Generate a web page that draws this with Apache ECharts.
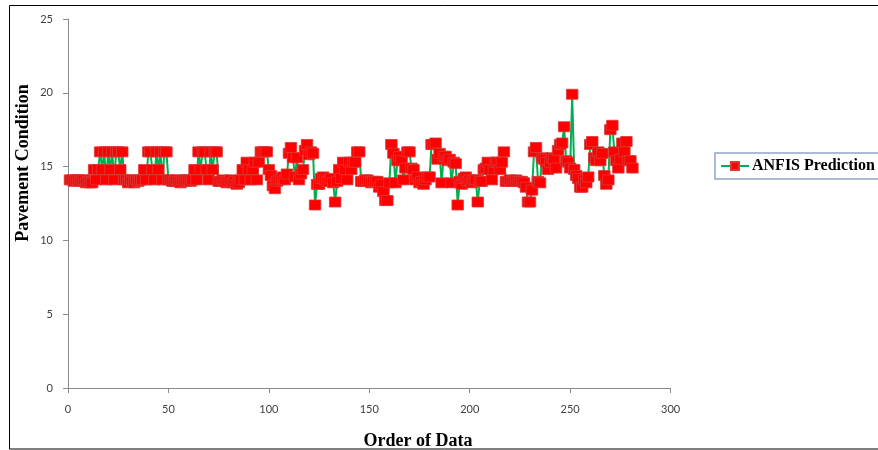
<!DOCTYPE html>
<html>
<head>
<meta charset="utf-8">
<script src="https://cdn.jsdelivr.net/npm/echarts@6/dist/echarts.min.js"></script>
<style>
  html, body { margin: 0; padding: 0; background: #fff; }
  #chart { width: 878px; height: 450px; }
</style>
</head>
<body>
<div id="chart"></div>
<script>
// ---- Data ----
const seriesName = 'ANFIS Prediction';
const xAxisTitle = 'Order of Data';
const yAxisTitle = 'Pavement Condition';
const xTicks = [0, 50, 100, 150, 200, 250, 300];
const yTicks = [0, 5, 10, 15, 20, 25];

const anfisPrediction = [
  14.1,14.1,14.0,14.1,14.1,14.0,14.1,14.1,13.9,14.0,13.9,
  13.9,14.8,14.1,14.8,16.0,14.8,16.0,14.1,16.0,14.8,16.0,14.1,16.0,16.0,14.8,16.0,14.1,14.1,
  13.9,14.1,14.0,13.9,14.1,14.0,14.1,
  14.1,14.8,14.1,16.0,16.0,14.8,14.1,16.0,14.8,16.0,14.1,16.0,16.0,14.1,14.1,14.0,
  14.0,14.1,14.0,13.9,14.1,14.0,14.1,14.1,14.0,
  14.1,14.8,14.1,16.0,14.8,16.0,16.0,14.8,14.1,16.0,14.8,16.0,16.0,14.0,
  14.0,14.1,14.0,13.9,14.0,14.1,13.9,14.0,13.8,13.9,14.1,
  14.8,14.1,15.3,14.8,14.1,14.8,15.3,14.1,15.3,16.0,16.0,16.0,
  16.0,14.8,14.4,13.7,13.5,14.0,14.1,14.2,14.3,14.1,14.5,15.9,16.3,
  15.6,14.3,15.6,14.1,14.5,14.8,16.1,16.5,15.8,16.0,15.9,
  12.4,13.8,13.8,14.2,14.3,14.1,14.0,14.0,14.2,13.9,12.6,
  14.0,14.8,14.2,15.3,14.8,14.1,15.3,14.8,15.3,15.3,16.0,16.0,14.0,
  14.0,14.1,14.1,14.0,13.9,14.0,14.0,14.0,13.6,13.8,13.3,12.7,12.7,
  13.9,16.5,15.9,13.9,15.4,15.7,15.4,14.1,14.9,16.0,16.0,14.9,
  14.8,14.1,14.3,13.9,14.0,13.8,14.1,14.3,14.3,
  16.5,16.5,16.6,15.5,15.9,13.9,15.7,15.7,15.4,15.5,13.9,15.3,15.2,
  12.4,14.0,13.8,14.2,14.3,14.0,14.1,13.9,14.1,14.1,12.6,14.0,14.0,
  14.8,14.9,15.3,14.8,14.1,14.8,15.3,15.3,14.8,15.3,16.0,14.0,
  14.0,14.1,14.0,14.0,14.1,14.0,14.0,14.0,13.9,13.6,12.6,12.6,13.4,
  16.0,16.3,14.0,13.9,15.6,15.5,15.3,14.8,15.3,15.6,15.5,14.9,16.1,16.5,16.6,
  17.7,15.4,15.3,14.9,19.9,14.8,14.4,14.2,13.6,13.6,14.1,13.9,14.3,
  16.5,16.7,15.6,15.4,16.0,15.4,15.9,14.4,13.8,14.1,17.5,17.8,
  16.0,15.4,14.9,15.5,16.6,16.0,16.7,15.4,15.4,14.9
];
// order of each observation (1, 2, 3, ...)
const orderOfData = anfisPrediction.map((_, i) => i + 1);

// ---- Chart ----
const chart = echarts.init(document.getElementById('chart'), null, { renderer: 'canvas' });
const labelFont = 'Lato, "Liberation Sans", sans-serif';
const titleFont = '"Liberation Serif", "DejaVu Serif", serif';

chart.setOption({
  animation: false,
  backgroundColor: '#ffffff',
  grid: { left: 68, top: 19, width: 602.6, height: 369, containLabel: false },
  xAxis: {
    type: 'value',
    min: xTicks[0], max: xTicks[xTicks.length - 1], interval: xTicks[1] - xTicks[0],
    axisLine: { show: true, lineStyle: { color: '#8c8c8c', width: 1 } },
    axisTick: { show: true, length: 5, lineStyle: { color: '#8c8c8c' } },
    axisLabel: { margin: 16, color: '#404040', fontSize: 11, fontFamily: labelFont },
    splitLine: { show: false }
  },
  yAxis: {
    type: 'value',
    min: yTicks[0], max: yTicks[yTicks.length - 1], interval: yTicks[1] - yTicks[0],
    axisLine: { show: true, lineStyle: { color: '#8c8c8c', width: 1 } },
    axisTick: { show: true, length: 5, lineStyle: { color: '#8c8c8c' } },
    axisLabel: { margin: 15, color: '#404040', fontSize: 11, fontFamily: labelFont },
    splitLine: { show: false }
  },
  legend: {
    data: [seriesName],
    left: 715, top: 153,
    orient: 'vertical',
    padding: [5, 40, 5, 5],
    borderColor: '#8ea6c8', borderWidth: 1.5,
    itemWidth: 28, itemHeight: 10, itemGap: 4,
    textStyle: { fontFamily: titleFont, fontWeight: 'bold', fontSize: 16, color: '#000', padding: [0,0,0,-2] }
  },
  graphic: [
    { type: 'rect', shape: { x: 9.5, y: 5.5, width: 880, height: 443.5 },
      style: { fill: null, stroke: '#000', lineWidth: 1 }, silent: true, z: 100 },
    { type: 'text', x: 23, y: 163, rotation: Math.PI / 2,
      style: { text: yAxisTitle, font: 'bold 18px ' + titleFont, fill: '#000', align: 'center', verticalAlign: 'middle' } },
    { type: 'text', x: 418, y: 441,
      style: { text: xAxisTitle, font: 'bold 18px ' + titleFont, fill: '#000', align: 'center', verticalAlign: 'middle' } }
  ],
  series: [{
    name: seriesName,
    type: 'line',
    data: orderOfData.map((x, i) => [x, anfisPrediction[i]]),
    symbol: 'rect',
    symbolSize: [11.5, 10],
    showAllSymbol: true,
    lineStyle: { color: '#00b050', width: 2 },
    itemStyle: { color: '#ff0000', borderColor: '#d83a3a', borderWidth: 0.8 }
  }]
});
</script>
</body>
</html>
